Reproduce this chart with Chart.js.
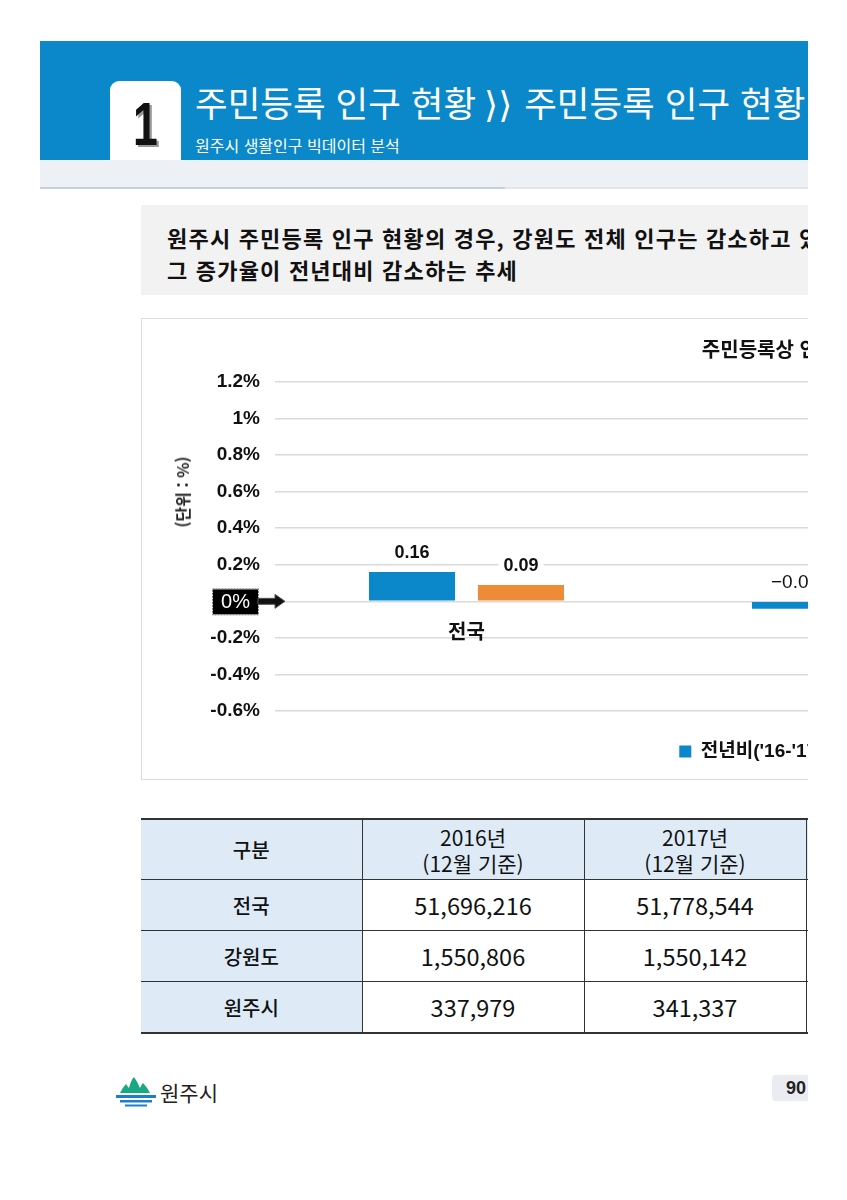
<!DOCTYPE html>
<html lang="ko">
<head>
  <meta charset="UTF-8">
  <title>주민등록 인구 현황</title>
  <script src="https://cdn.jsdelivr.net/npm/chart.js"></script>
  <style>
    body {
      margin: 0;
      background: #fff;
      font-family: "Noto Sans CJK KR", "Liberation Sans", sans-serif;
    }
    .page {
      position: absolute;
      left: 0;
      top: 0;
      width: 808px;
      height: 1200px;
      overflow: hidden;
    }
    .band { position: absolute; left: 40px; top: 41px; width: 768px; height: 119px; background: #0a88c9; }
    .band2 { position: absolute; left: 40px; top: 160px; width: 768px; height: 27px; background: #edf0f4; }
    .band-line { position: absolute; left: 40px; top: 187px; width: 768px; height: 2px; background: #e2e6eb; }
    .band-line2 { position: absolute; left: 40px; top: 187px; width: 465px; height: 2px; background: #c5d1dd; }
    .tab {
      position: absolute; left: 110px; top: 81px; width: 71px; height: 79px;
      background: #fff; border-radius: 9px 9px 0 0;
    }
    .tab span {
      position: absolute; left: 0; top: 12px; width: 71px; text-align: center;
      font: bold 62px "Liberation Sans", Arial, sans-serif; line-height: 62px; color: #111;
      transform: scaleX(0.72);
      text-shadow: 3px 2px 0 #999;
    }
    .head-title {
      position: absolute; left: 195px; top: 79px; white-space: nowrap;
      color: #fff; font-size: 35.5px; line-height: 46px;
    }
    .head-title .chev { font-family: "DejaVu Sans", sans-serif; font-size: 36px; margin: 0 2px 0 -2px; }
    .head-sub {
      position: absolute; left: 195px; top: 134px; white-space: nowrap;
      color: #fff; font-size: 16px; line-height: 22px;
    }
    .summary {
      position: absolute; left: 141px; top: 205px; width: 720px; height: 90px;
      background: #f2f2f2; box-sizing: border-box; padding: 16px 0 0 26px;
      font-size: 22px; font-weight: bold; line-height: 32px; letter-spacing: 1.2px;
      color: #111; white-space: nowrap;
    }
    .chart-box {
      position: absolute; left: 141px; top: 318px; width: 1396px; height: 462px;
      box-sizing: border-box; border: 1px solid #dcdcdc; background: #fff;
    }
    .y-title {
      position: absolute; left: 182px; top: 492px; white-space: nowrap;
      transform: translate(-50%, -50%) rotate(-90deg);
      font-size: 16px; font-weight: bold; color: #222;
    }
    table {
      position: absolute; left: 141px; top: 818px; width: 887px;
      border-collapse: collapse; table-layout: fixed;
      border-top: 2px solid #333; border-bottom: 2px solid #333;
    }
    td {
      border: 1px solid #333; border-left: none; text-align: center;
      color: #111; padding: 0;
    }
    td + td { border-left: 1px solid #333; }
    tr.head td { height: 59px; background: #deebf7; font-size: 21px; line-height: 26px; }
    tr.row td { height: 50px; font-size: 23.5px; }
    td.lab { background: #deebf7; font-size: 20px !important; font-weight: 500; }
    .logo { position: absolute; left: 114px; top: 1075px; }
    .logo-text { position: absolute; left: 160px; top: 1077px; font-size: 21px; color: #222; }
    .pagenum {
      position: absolute; left: 772px; top: 1075px; width: 50px; height: 26px;
      background: #ebecf1; border-radius: 4px; box-sizing: border-box; padding-left: 14px;
      font: bold 18px "Liberation Sans", Arial, sans-serif; line-height: 26px; color: #222;
    }
  </style>
</head>
<body>
  <div class="page">
    <div class="band"></div>
    <div class="band2"></div>
    <div class="band-line"></div>
    <div class="band-line2"></div>
    <div class="tab"><span>1</span></div>
    <div class="head-title">주민등록 인구 현황 <span class="chev">⟩⟩</span> 주민등록 인구 현황</div>
    <div class="head-sub">원주시 생활인구 빅데이터 분석</div>

    <div class="summary">원주시 주민등록 인구 현황의 경우, 강원도 전체 인구는 감소하고 있으나 원주시는 증가<br>그 증가율이 전년대비 감소하는 추세</div>

    <div class="chart-box">
      <canvas id="rateChart"></canvas>
    </div>
    <div class="y-title">(단위 : %)</div>

    <table>
      <colgroup><col style="width:221px"><col style="width:222px"><col style="width:222px"><col style="width:222px"></colgroup>
      <tr class="head"><td class="lab">구분</td><td>2016년<br>(12월 기준)</td><td>2017년<br>(12월 기준)</td><td>2018년<br>(12월 기준)</td></tr>
      <tr class="row"><td class="lab">전국</td><td>51,696,216</td><td>51,778,544</td><td></td></tr>
      <tr class="row"><td class="lab">강원도</td><td>1,550,806</td><td>1,550,142</td><td></td></tr>
      <tr class="row"><td class="lab">원주시</td><td>337,979</td><td>341,337</td><td></td></tr>
    </table>

    <svg class="logo" width="44" height="34" viewBox="0 0 44 34">
      <path d="M6 18 Q9 12 12 9 Q14 12 15 13 Q17 5 20 2 Q23 6 26 13 Q27 10 29 8 Q33 12 36 18 Z" fill="#19a884"/>
      <rect x="2" y="20" width="40" height="3" fill="#1e7fc4"/>
      <rect x="6" y="25" width="32" height="2.5" fill="#1e7fc4"/>
      <rect x="11" y="29.5" width="22" height="2" fill="#1e7fc4"/>
    </svg>
    <div class="logo-text">원주시</div>
    <div class="pagenum">90</div>
  </div>

  <script>
    // values (% change vs previous year)
    const categories = ['전국', '강원도', '원주시'];
    const seriesNames = ["전년비('16-'17)", "전년비('17-'18)"];
    const rate1617 = [0.16, -0.04, null];
    const rate1718 = [0.09, null, null];
    const yMin = -0.6, yMax = 1.2, yStep = 0.2;

    const sansFont = '"Liberation Sans", "Noto Sans CJK KR", sans-serif';
    Chart.defaults.font.family = sansFont;
    Chart.defaults.color = '#111';

    // value labels on a white patch above each bar
    const valueLabels = {
      id: 'valueLabels',
      afterDatasetsDraw(chart) {
        const ctx = chart.ctx;
        ctx.save();
        chart.data.datasets.forEach((ds, i) => {
          chart.getDatasetMeta(i).data.forEach((bar, j) => {
            const v = ds.data[j];
            if (v == null) return;
            const text = v < 0 ? '\u2212' + Math.abs(v).toFixed(2) : v.toFixed(2);
            ctx.font = (v < 0 ? '19px ' : 'bold 18px ') + sansFont;
            const w = ctx.measureText(text).width;
            const y = Math.min(bar.y, bar.base) - 19;
            ctx.fillStyle = '#fff';
            ctx.fillRect(bar.x - w / 2 - 5, y - 11, w + 10, 22);
            ctx.fillStyle = '#111';
            ctx.textAlign = 'center';
            ctx.textBaseline = 'middle';
            ctx.fillText(text, bar.x, y);
          });
        });
        ctx.restore();
      }
    };

    // black "0%" tag with an arrow pointing at the zero line
    const zeroMarker = {
      id: 'zeroMarker',
      afterDraw(chart) {
        const ctx = chart.ctx;
        const y = chart.scales.y.getPixelForValue(0);
        const left = chart.chartArea.left;
        ctx.save();
        ctx.fillStyle = '#000';
        ctx.strokeStyle = '#777';
        ctx.lineWidth = 1;
        ctx.setLineDash([2, 1]);
        ctx.fillRect(left - 62, y - 12, 45, 25);
        ctx.strokeRect(left - 62.5, y - 12.5, 46, 26);
        ctx.setLineDash([]);
        ctx.beginPath();
        ctx.moveTo(left - 17, y - 3);
        ctx.lineTo(left, y - 3);
        ctx.lineTo(left, y - 7);
        ctx.lineTo(left + 10, y);
        ctx.lineTo(left, y + 7);
        ctx.lineTo(left, y + 3);
        ctx.lineTo(left - 17, y + 3);
        ctx.closePath();
        ctx.fillStyle = '#111';
        ctx.fill();
        ctx.strokeStyle = '#555';
        ctx.stroke();
        ctx.fillStyle = '#fff';
        ctx.font = '20px ' + sansFont;
        ctx.textAlign = 'center';
        ctx.textBaseline = 'middle';
        ctx.fillText('0%', left - 39.5, y + 1);
        ctx.restore();
      }
    };

    new Chart(document.getElementById('rateChart'), {
      type: 'bar',
      data: {
        labels: categories,
        datasets: [
          { label: seriesNames[0], data: rate1617, backgroundColor: '#0a88c9' },
          { label: seriesNames[1], data: rate1718, backgroundColor: '#ee8b37' }
        ]
      },
      options: {
        responsive: true,
        maintainAspectRatio: false,
        animation: false,
        categoryPercentage: 0.569,
        barPercentage: 0.79,
        layout: { padding: { left: 0, right: 0, top: 0, bottom: 8 } },
        plugins: {
          title: {
            display: true,
            text: '주민등록상 인구 전년대비 증가율',
            font: { size: 20, weight: 'bold' },
            color: '#111',
            padding: { top: 20, bottom: 19 }
          },
          legend: {
            position: 'bottom',
            labels: {
              boxWidth: 12,
              boxHeight: 12,
              padding: 31,
              font: { size: 19, weight: 'bold' },
              color: '#111'
            }
          },
          tooltip: { enabled: false }
        },
        scales: {
          x: {
            position: { y: 0 },
            grid: { display: false, drawTicks: false },
            border: { display: false },
            ticks: { font: { size: 20, weight: 'bold' }, padding: 20, color: '#111' }
          },
          y: {
            min: yMin,
            max: yMax,
            afterFit(scale) { scale.width = 133; },
            grid: { color: '#dadada', lineWidth: 1.5, drawTicks: false },
            border: { display: false },
            ticks: {
              stepSize: yStep,
              padding: 15,
              color: '#111',
              font: { size: 19, weight: 'bold' },
              callback: (v) => {
                const r = Math.round(v * 10) / 10;
                return r === 0 ? '' : r + '%';
              }
            }
          },
          // empty right-hand margin of the chart (the plot does not fill the box)
          yRight: {
            position: 'right',
            min: yMin,
            max: yMax,
            afterFit(scale) { scale.width = 112; },
            grid: { display: false, drawTicks: false },
            border: { display: false },
            ticks: { display: false }
          }
        }
      },
      plugins: [valueLabels, zeroMarker]
    });
  </script>
</body>
</html>
